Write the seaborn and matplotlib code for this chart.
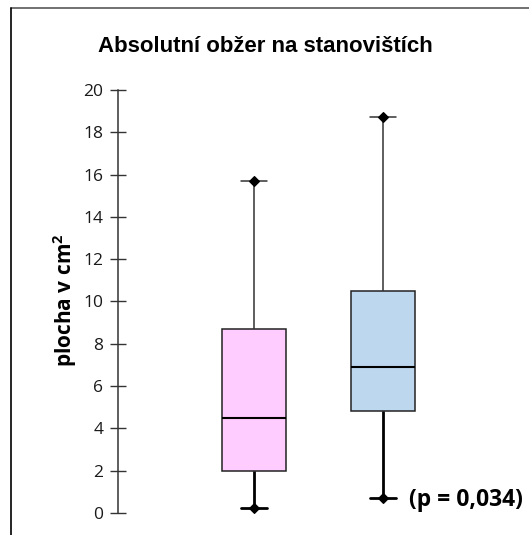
import numpy as np
import pandas as pd
import seaborn as sns
import matplotlib
matplotlib.use("Agg")
import matplotlib.pyplot as plt
from matplotlib.lines import Line2D

# ---- data (five-number summaries) ----
groups = ["stanoviště 1", "stanoviště 2"]
mins = [0.25, 0.7]
q1s = [2.0, 4.8]
medians = [4.5, 6.9]
q3s = [8.7, 10.5]
maxs = [15.7, 18.7]
colors = ["#FFCCFF", "#BDD7EE"]
title = "Absolutní obžer na stanovištích"
ylabel = "plocha v cm$^\\mathbf{2}$"
ptext = "(p = 0,034)"
yticks = [0, 2, 4, 6, 8, 10, 12, 14, 16, 18, 20]

rows = []
for g, a, b, c, d, e in zip(groups, mins, q1s, medians, q3s, maxs):
    for v in (a, b, c, d, e):
        rows.append({"group": g, "value": v})
df = pd.DataFrame(rows)

sns.set_style("white")
plt.rcParams["font.family"] = ["Open Sans", "DejaVu Sans"]
plt.rcParams["mathtext.fontset"] = "custom"
plt.rcParams["mathtext.bf"] = "Open Sans:bold"
plt.rcParams["mathtext.rm"] = "Open Sans"

fig = plt.figure(figsize=(5.29, 5.35), dpi=100)
ax = fig.add_axes([118 / 529, 22 / 535, 411 / 529, 423 / 535])

sns.boxplot(data=df, x="group", y="value", hue="group", palette=colors,
            saturation=1, whis=np.inf, width=0.5, linecolor="#222222",
            linewidth=1.1, legend=False, ax=ax)

# style whiskers / caps: upper thin gray, lower thicker black
for ln in ax.lines:
    xs = np.asarray(ln.get_xdata(), dtype=float)
    ys = np.asarray(ln.get_ydata(), dtype=float)
    if len(ys) != 2:
        continue
    gi = int(round(xs.mean()))
    if gi < 0 or gi >= len(groups):
        continue
    if np.allclose(ys, medians[gi]):
        ln.set_color("black")
        ln.set_linewidth(1.5)
        continue
    if np.isclose(ys[0], ys[1]):
        # cap: make it a bit narrower than seaborn's default
        c = xs.mean()
        ln.set_xdata(c + (xs - c) * 0.8)
    if ys.mean() > medians[gi]:
        ln.set_color("#333333")
        ln.set_linewidth(1.1)
    else:
        ln.set_color("black")
        ln.set_linewidth(2.0)

# diamond markers at whisker ends
pos = np.arange(len(groups))
ax.scatter(np.concatenate([pos, pos]), np.concatenate([mins, maxs]),
           marker="D", s=24, color="black", zorder=5)

ax.set_ylim(0, 20)
ax.set_xlim(-1.054, 2.132)
ax.set_yticks(yticks)
ax.set_yticklabels([str(t) for t in yticks], fontsize=12.5, color="#1a1a1a")
ax.tick_params(axis="y", left=True, direction="inout", length=11, width=1,
               color="#333333", pad=5)
ax.set_xticks([])
ax.set_xlabel("")
for s in ["top", "right", "bottom"]:
    ax.spines[s].set_visible(False)
ax.spines["left"].set_color("#333333")
ax.spines["left"].set_linewidth(1.1)

ax.set_ylabel(ylabel, fontsize=15, fontweight="bold", color="black")
ax.yaxis.set_label_coords(-0.095, 0.503)

ax.text(1.20, 0.6, ptext, fontsize=16.5, fontweight="bold", ha="left", va="center",
        color="black")

fig.text(265 / 529, 1 - 46 / 535, title, fontsize=16, fontweight="bold",
         family="Liberation Sans", ha="center", va="center", color="black")

# chart-area border (top gray, left black)
fig.add_artist(Line2D([11 / 529, 1], [1 - 8 / 535, 1 - 8 / 535],
                      transform=fig.transFigure, color="#595959", lw=1.2))
fig.add_artist(Line2D([11 / 529, 11 / 529], [0, 1 - 8 / 535],
                      transform=fig.transFigure, color="black", lw=1.2))

fig.savefig("out.png", dpi=100)
